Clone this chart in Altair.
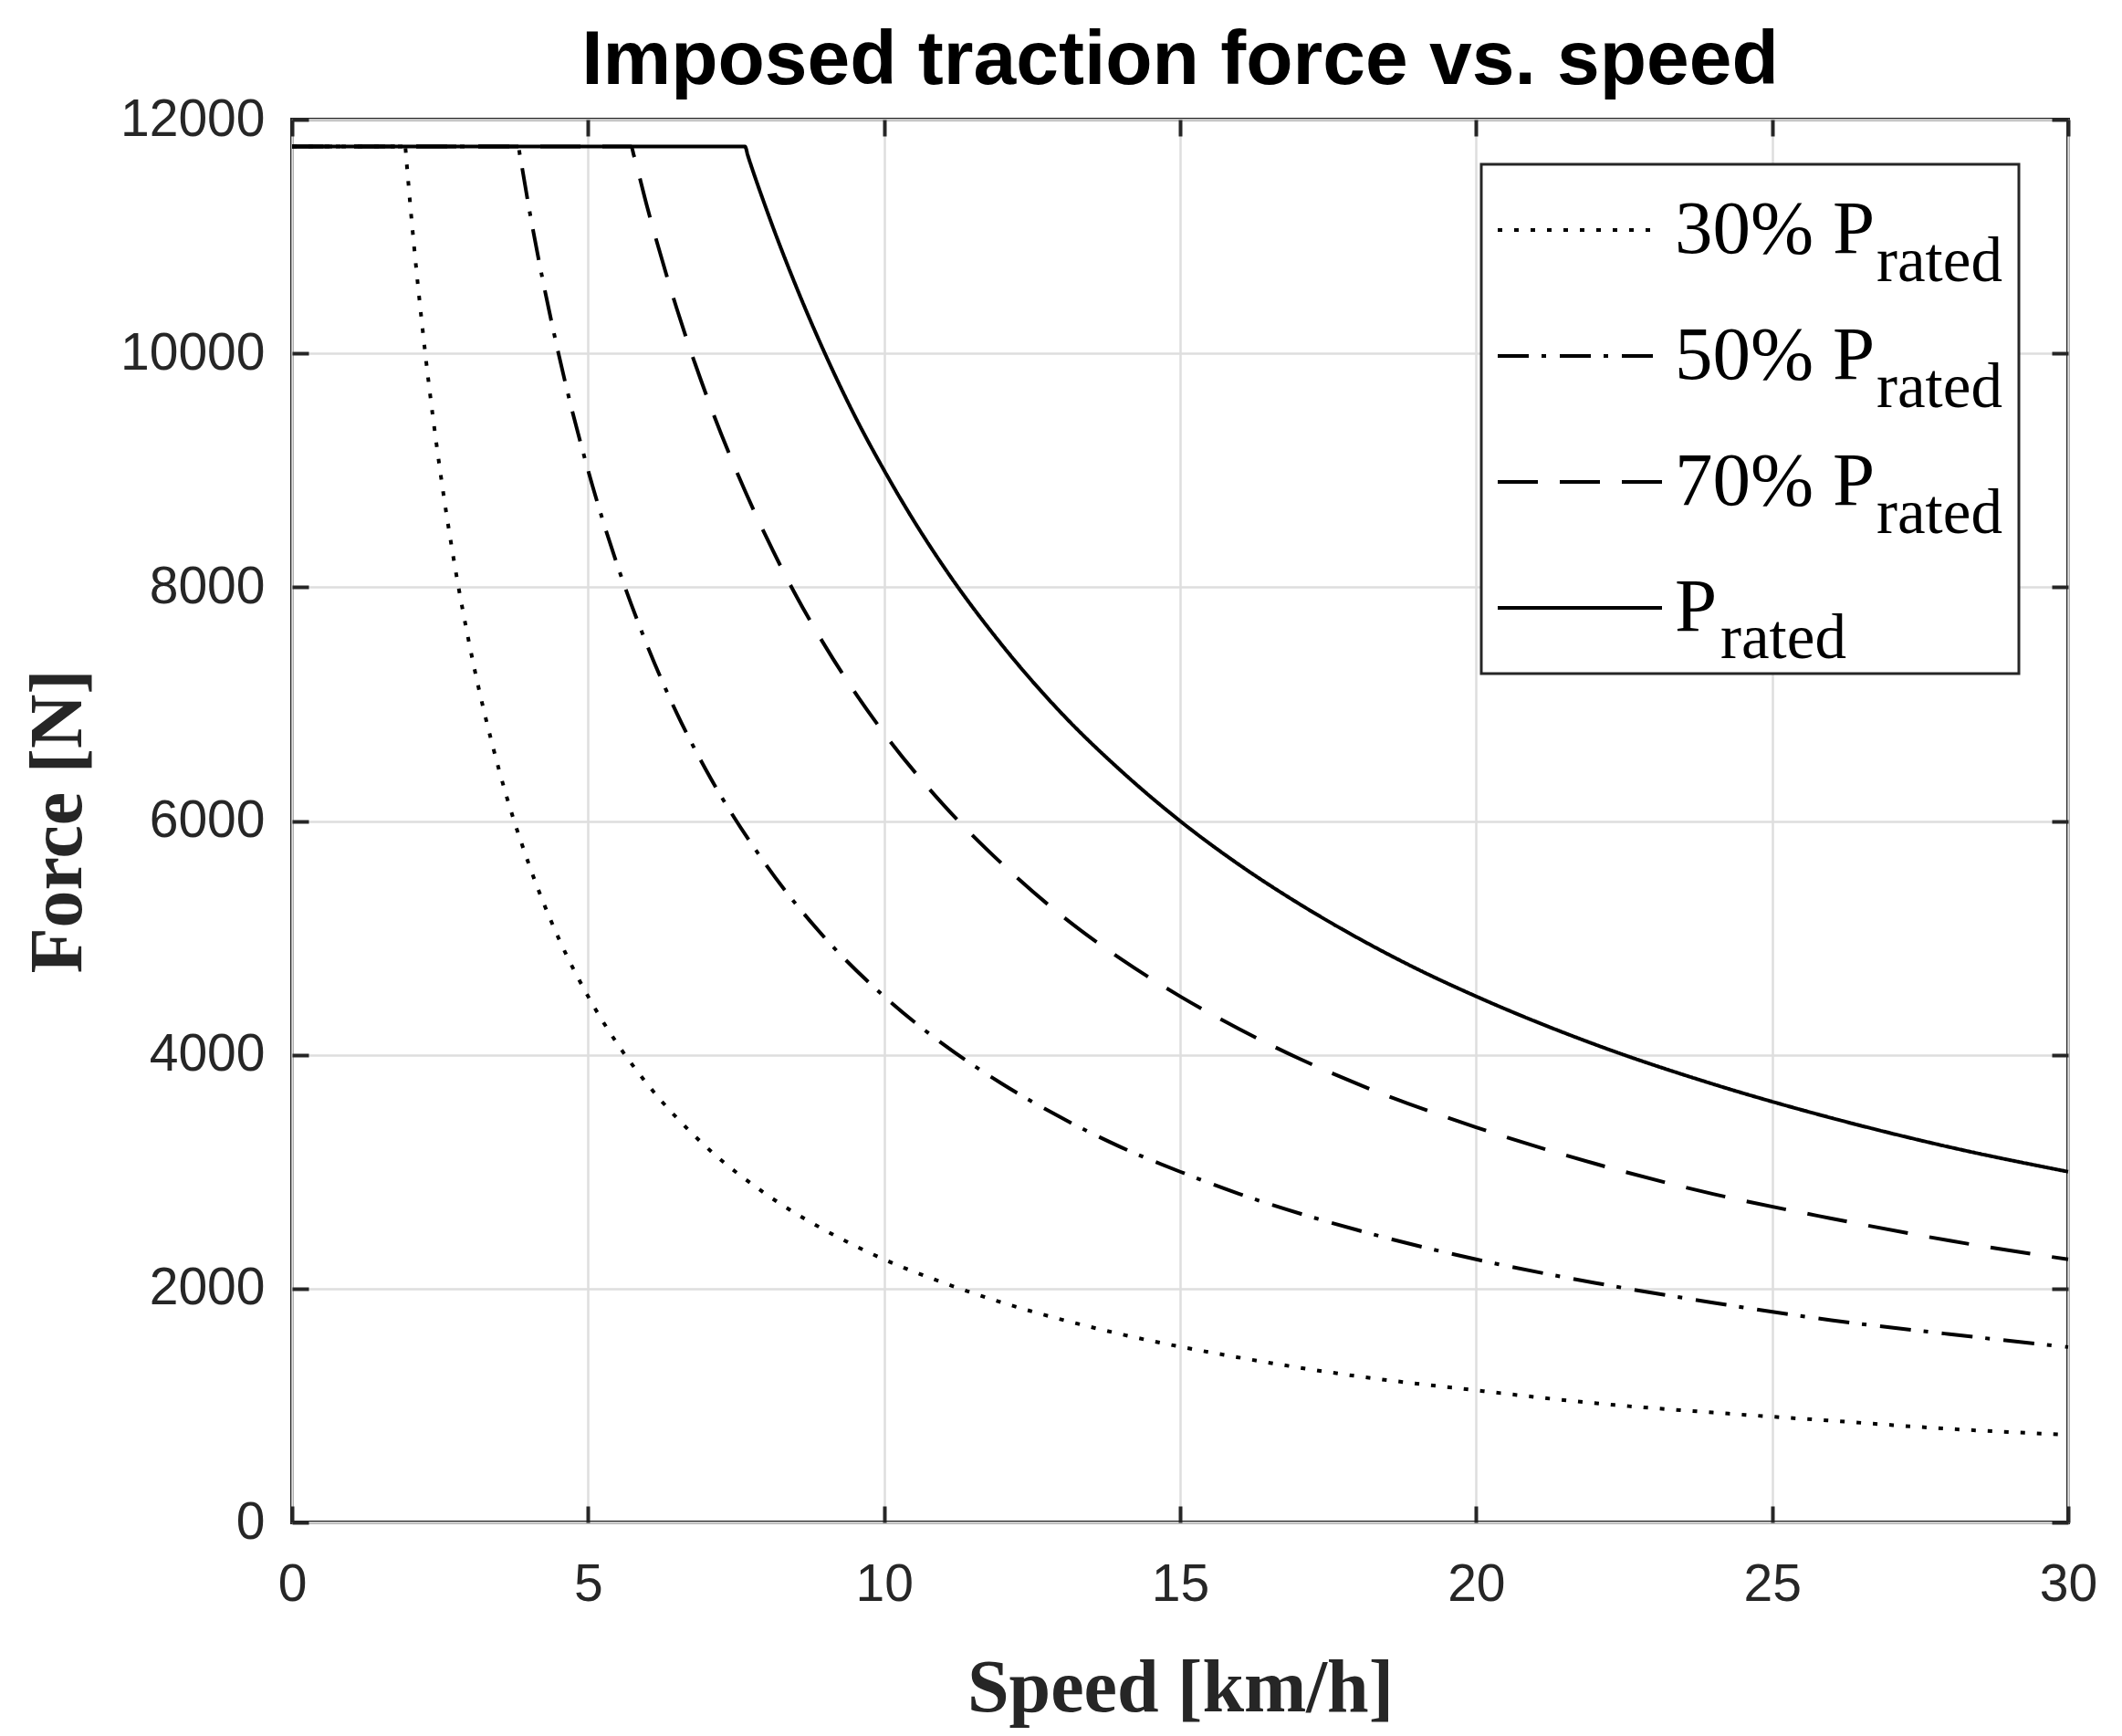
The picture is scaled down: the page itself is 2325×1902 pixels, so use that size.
import altair as alt
import pandas as pd

# ---- data (speed in km/h, force in N) ----
speed_30 = [0, 1.91, 1.93, 2, 2.25, 2.5, 2.75, 3, 3.5, 4, 4.5, 5, 5.5, 6, 7, 8, 9, 10, 11, 12, 14, 16, 18, 20, 22, 24, 26, 28, 30]
force_30 = [11770, 11770, 11660, 11250, 10000, 9000, 8180, 7500, 6430, 5630, 5000, 4500, 4090, 3750, 3210, 2810, 2500, 2250, 2050, 1880, 1610, 1410, 1250, 1130, 1020, 940, 870, 800, 750]

speed_50 = [0, 3.82, 3.85, 4, 4.5, 5, 5.5, 6, 6.5, 7, 8, 9, 10, 11, 12, 13, 14, 15, 16, 18, 20, 22, 24, 26, 28, 30]
force_50 = [11770, 11770, 11690, 11250, 10000, 9000, 8180, 7500, 6920, 6430, 5630, 5000, 4500, 4090, 3750, 3460, 3210, 3000, 2810, 2500, 2250, 2050, 1880, 1730, 1610, 1500]

speed_70 = [0, 5.73, 5.77, 6, 6.5, 7, 7.5, 8, 8.5, 9, 10, 11, 12, 13, 14, 15, 16, 17, 18, 20, 22, 24, 26, 28, 30]
force_70 = [11770, 11770, 11700, 11250, 10380, 9640, 9000, 8440, 7940, 7500, 6750, 6140, 5630, 5190, 4820, 4500, 4220, 3970, 3750, 3380, 3070, 2810, 2600, 2410, 2250]

speed_100 = [0, 7.65, 7.7, 8, 8.5, 9, 9.5, 10, 10.5, 11, 12, 13, 14, 15, 16, 17, 18, 19, 20, 22, 24, 26, 28, 30]
force_100 = [11770, 11770, 11690, 11250, 10590, 10000, 9470, 9000, 8570, 8180, 7500, 6920, 6430, 6000, 5625, 5295, 5000, 4735, 4500, 4090, 3750, 3460, 3210, 3000]

series_names = ["30%", "50%", "70%", "100%"]
sub_keys = ["s30", "s50", "s70", "s100"]
sub2_keys = ["t30", "t50", "t70", "t100"]
x_ticks = [0, 5, 10, 15, 20, 25, 30]
y_ticks = [0, 2000, 4000, 6000, 8000, 10000, 12000]

rows = []
for name, k1, k2, sp, fo in zip(series_names, sub_keys, sub2_keys,
                                [speed_30, speed_50, speed_70, speed_100],
                                [force_30, force_50, force_70, force_100]):
    for s, f in zip(sp, fo):
        rows.append({"speed": s, "force": f, "series": name, "sub": k1, "sub2": k2})
df = pd.DataFrame(rows)

W, H = 1946, 1537
INK = "#262626"
PAD = "\u00a0" * 6 + "\u2009" + "\u200b"

x_scale = alt.Scale(domain=[0, 30], nice=False)
y_scale = alt.Scale(domain=[0, 12000], nice=False)

dash_scale = alt.Scale(domain=series_names,
                       range=[[5, 13], [34, 14, 5, 15], [44, 24], [1, 0]])

legend_main = alt.Legend(
    title=None, orient="none", legendX=1303, legendY=49,
    symbolType="stroke", symbolSize=32400, symbolStrokeWidth=4,
    symbolStrokeColor="black",
    labelFont="Liberation Serif", labelFontSize=83, labelColor="black",
    labelLimit=2000, labelOffset=12,
    labelExpr="datum.value == '100%' ? 'P' : datum.value + ' P" + PAD + "'",
    padding=16, rowPadding=26, clipHeight=112,
    strokeColor=INK, fillColor="white",
)

legend_sub = alt.Legend(
    title=None, orient="none", legendX=1667, legendY=121,
    values=sub_keys[:3],
    symbolType="stroke", symbolSize=0, symbolStrokeWidth=0,
    symbolStrokeColor="transparent", symbolFillColor="transparent",
    labelFont="Liberation Serif", labelFontSize=69, labelColor="black",
    labelBaseline="alphabetic", labelLimit=2000, labelOffset=0,
    labelExpr="'rated'",
    padding=0, rowPadding=26, clipHeight=112,
)

legend_sub2 = alt.Legend(
    title=None, orient="none", legendX=1496, legendY=534,
    values=sub2_keys[3:],
    symbolType="stroke", symbolSize=0,
    symbolStrokeColor="transparent", symbolFillColor="transparent",
    labelFont="Liberation Serif", labelFontSize=69, labelColor="black",
    labelBaseline="alphabetic", labelLimit=2000, labelOffset=0,
    labelExpr="'rated'",
    padding=0, rowPadding=26, clipHeight=112,
)

lines = alt.Chart(df).mark_line(color="black", interpolate="monotone").encode(
    x=alt.X("speed:Q", scale=x_scale,
            axis=alt.Axis(values=x_ticks, format="d", grid=True, gridColor="#dedede", gridWidth=2.5,
                          ticks=False, tickSize=0, domain=False,
                          labelFont="Liberation Sans", labelFontSize=57, labelColor=INK,
                          labelPadding=40, labelFlush=False, labelOverlap=False,
                          title="Speed [km/h]", titleFont="Liberation Serif",
                          titleFontWeight="bold", titleFontSize=82, titleColor=INK,
                          titleBaseline="alphabetic", titleAlign="center",
                          titleX=W / 2, titleY=206)),
    y=alt.Y("force:Q", scale=y_scale,
            axis=alt.Axis(values=y_ticks, format="d", grid=True, gridColor="#dedede", gridWidth=2.5,
                          ticks=False, tickSize=0, domain=False,
                          labelFont="Liberation Sans", labelFontSize=57, labelColor=INK,
                          labelPadding=30, labelFlush=False, labelOverlap=False,
                          title="Force [N]", titleFont="Liberation Serif",
                          titleFontWeight="bold", titleFontSize=82, titleColor=INK,
                          titleBaseline="alphabetic", titleAlign="center",
                          titleAngle=270, titleX=-232, titleY=H / 2)),
    strokeDash=alt.StrokeDash("series:N", scale=dash_scale, sort=series_names,
                              legend=legend_main),
    opacity=alt.Opacity("sub:N", scale=alt.Scale(domain=sub_keys, range=[1, 1, 1, 1]),
                        legend=legend_sub),
    strokeWidth=alt.StrokeWidth("sub2:N", scale=alt.Scale(domain=sub2_keys, range=[4, 4, 4, 4]),
                                legend=legend_sub2),
)


def tick_axis(orient, vals, offset):
    return alt.Axis(orient=orient, offset=offset, values=vals, labels=False, grid=False,
                    domain=False, ticks=True, tickSize=18, tickWidth=4, tickColor=INK,
                    title=None)


inner_ticks_a = alt.Chart(df).mark_point(opacity=0).encode(
    x=alt.X("speed:Q", scale=x_scale, axis=tick_axis("top", x_ticks, -H)),
    y=alt.Y("force:Q", scale=y_scale, axis=tick_axis("right", y_ticks, -W)),
)

inner_ticks_b = alt.Chart(df).mark_point(opacity=0).encode(
    x=alt.X("speed:Q", scale=x_scale, axis=tick_axis("bottom", x_ticks, -H)),
    y=alt.Y("force:Q", scale=y_scale, axis=tick_axis("left", y_ticks, -W)),
)

chart = alt.layer(lines, inner_ticks_a, inner_ticks_b).resolve_scale(
    x="independent", y="independent"
).resolve_axis(
    x="independent", y="independent"
).properties(
    width=W, height=H,
    autosize="none",
    padding={"left": 312, "top": 123, "right": 51, "bottom": 226},
    title=alt.TitleParams("Imposed traction force vs. speed", font="Liberation Sans",
                          fontSize=84, fontWeight="bold", color="black",
                          anchor="middle", frame="group", baseline="alphabetic",
                          offset=14, dy=88),
).configure_view(
    stroke=INK, strokeWidth=4
).configure_legend(
    strokeWidth=3
)

chart.save("out.html", embed_options={"renderer": "svg", "actions": False})
